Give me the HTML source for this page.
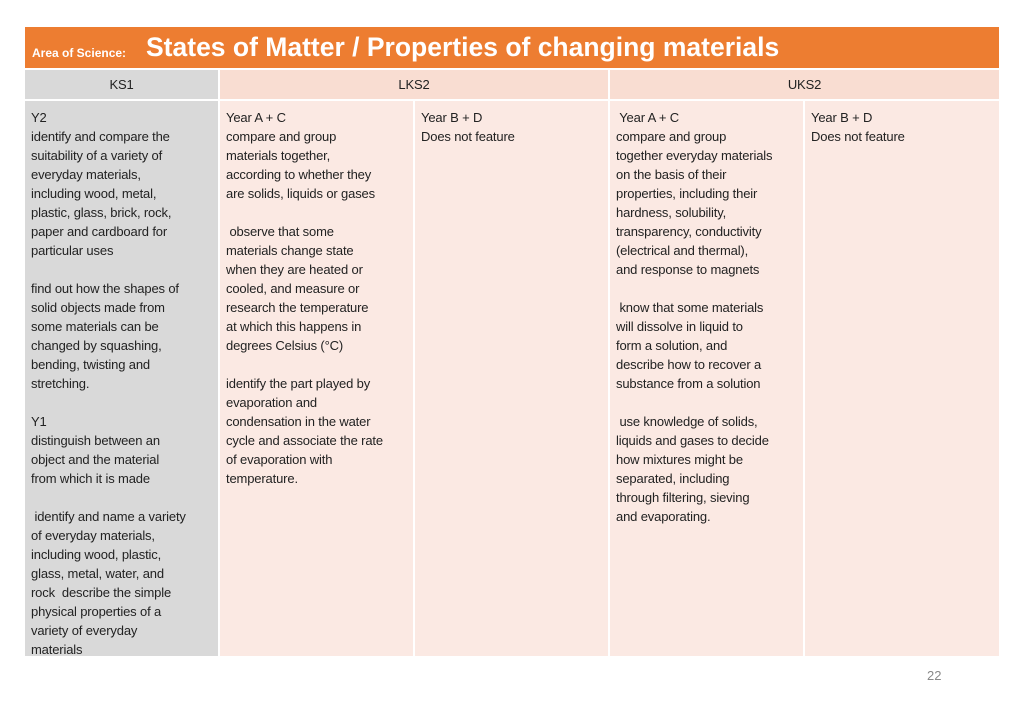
<!DOCTYPE html>
<html><head><meta charset="utf-8"><style>
body{margin:0;width:1024px;height:709px;background:#fff;position:relative;font-family:"Liberation Sans",sans-serif;overflow:hidden}
.hdr{position:absolute;left:25px;top:27px;width:974px;height:41px;background:#ED7D31;color:#fff}
.hdr .small{position:absolute;left:7px;top:19px;font-size:12px;font-weight:bold}
.hdr .big{position:absolute;left:121px;top:5px;font-size:26.5px;font-weight:bold;letter-spacing:0}
.cell{position:absolute;box-sizing:border-box;font-size:13px;color:#222;line-height:19px;white-space:pre;letter-spacing:-0.15px}
.h{top:70px;height:29px;text-align:center;line-height:29px}
.c{top:101px;height:555px;padding:7px 0 0 6px}
.g{background:#D9D9D9}.p1{background:#F9DDD2}.p2{background:#FBE9E3}
.pg{position:absolute;left:927px;top:668px;font-size:13px;color:#888}
</style></head><body>
<div class="hdr"><span class="small">Area of Science:</span><span class="big">States of Matter / Properties of changing materials</span></div>
<div class="cell h g" style="left:25px;width:193px">KS1</div>
<div class="cell h p1" style="left:220px;width:388px">LKS2</div>
<div class="cell h p1" style="left:610px;width:389px">UKS2</div>
<div class="cell c g" style="left:25px;width:193px">Y2
identify and compare the
suitability of a variety of
everyday materials,
including wood, metal,
plastic, glass, brick, rock,
paper and cardboard for
particular uses

find out how the shapes of
solid objects made from
some materials can be
changed by squashing,
bending, twisting and
stretching.

Y1
distinguish between an
object and the material
from which it is made

 identify and name a variety
of everyday materials,
including wood, plastic,
glass, metal, water, and
rock  describe the simple
physical properties of a
variety of everyday
materials</div>
<div class="cell c p2" style="left:220px;width:193px">Year A + C
compare and group
materials together,
according to whether they
are solids, liquids or gases

 observe that some
materials change state
when they are heated or
cooled, and measure or
research the temperature
at which this happens in
degrees Celsius (°C)

identify the part played by
evaporation and
condensation in the water
cycle and associate the rate
of evaporation with
temperature.</div>
<div class="cell c p2" style="left:415px;width:193px">Year B + D
Does not feature</div>
<div class="cell c p2" style="left:610px;width:193px"> Year A + C
compare and group
together everyday materials
on the basis of their
properties, including their
hardness, solubility,
transparency, conductivity
(electrical and thermal),
and response to magnets

 know that some materials
will dissolve in liquid to
form a solution, and
describe how to recover a
substance from a solution

 use knowledge of solids,
liquids and gases to decide
how mixtures might be
separated, including
through filtering, sieving
and evaporating.</div>
<div class="cell c p2" style="left:805px;width:194px">Year B + D
Does not feature</div>
<div class="pg">22</div>
</body></html>
